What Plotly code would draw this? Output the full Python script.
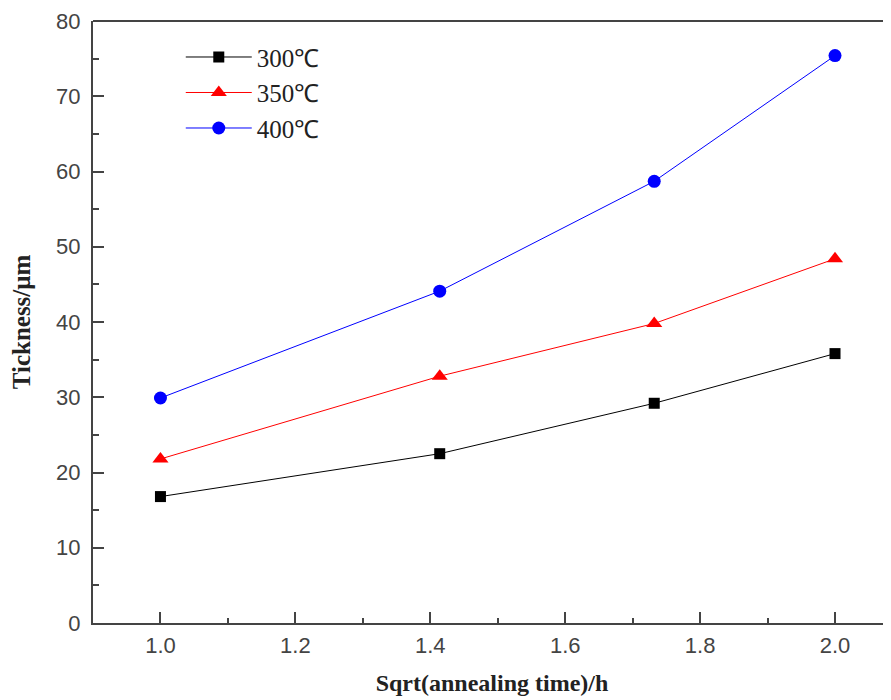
import plotly.graph_objects as go

x_vals = [1.0, 1.414, 1.732, 2.0]
s300 = [16.8, 22.5, 29.2, 35.8]
s350 = [21.8, 32.8, 39.8, 48.4]
s400 = [29.9, 44.1, 58.7, 75.4]
names = ["300℃", "350℃", "400℃"]
x_ticks = [1.0, 1.2, 1.4, 1.6, 1.8, 2.0]
x_tick_text = ["1.0", "1.2", "1.4", "1.6", "1.8", "2.0"]
y_ticks = [0, 10, 20, 30, 40, 50, 60, 70, 80]

SERIF = "Liberation Serif"
SANS = "Liberation Sans, Arial, sans-serif"

fig = go.Figure()
styles = [
    (s300, "black", "square", 11),
    (s350, "red", "triangle-up", 14),
    (s400, "blue", "circle", 13),
]
for name, (ys, col, sym, sz) in zip(names, styles):
    fig.add_trace(go.Scatter(
        x=x_vals, y=ys, mode="lines+markers", name=name,
        line=dict(color=col, width=1),
        marker=dict(color=col, symbol=sym, size=sz, line=dict(width=0)),
    ))

fig.add_shape(type="line", xref="paper", yref="paper", x0=0, x1=1, y0=1, y1=1,
              line=dict(color="#444", width=2))

fig.update_layout(
    width=883, height=692,
    margin=dict(l=85, r=0, t=13, b=77, autoexpand=False),
    plot_bgcolor="white", paper_bgcolor="white",
    showlegend=True,
    legend=dict(x=0.11, y=0.978, xanchor="left", yanchor="top",
                font=dict(family=SERIF, size=25, color="#222"),
                bgcolor="rgba(0,0,0,0)", tracegroupgap=0, itemwidth=66),
    xaxis=dict(
        range=[0.9, 2.083], tickvals=x_ticks, ticktext=x_tick_text, automargin=False,
        showgrid=False, zeroline=False, showline=True, linecolor="#444", linewidth=2,
        ticks="inside", ticklen=11, tickwidth=2, tickcolor="#444", ticklabelstandoff=2,
        tickfont=dict(family=SANS, size=22, color="#444"),
        minor=dict(ticks="inside", ticklen=5, tickwidth=2, tickcolor="#444", dtick=0.1, tick0=0.9),
        title=dict(text="<b>Sqrt(annealing time)/h</b>", standoff=17,
                   font=dict(family=SERIF, size=24, color="#222")),
    ),
    yaxis=dict(
        range=[0, 80], tickvals=y_ticks, automargin=False,
        showgrid=False, zeroline=False, showline=True, linecolor="#444", linewidth=2,
        ticks="inside", ticklen=11, tickwidth=2, tickcolor="#444", ticklabelstandoff=6,
        tickfont=dict(family=SANS, size=22, color="#444"),
        minor=dict(ticks="inside", ticklen=6, tickwidth=2, tickcolor="#444", dtick=5),
        title=dict(text="<b>Tickness/μm</b>", standoff=18,
                   font=dict(family=SERIF, size=25, color="#222")),
    ),
)

fig.write_html("out.html")
